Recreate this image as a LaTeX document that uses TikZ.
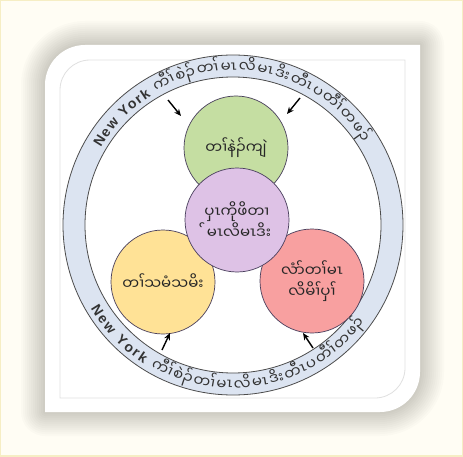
\documentclass[tikz,border=0pt]{standalone}
\usepackage{fontspec}
\setmainfont{Liberation Sans}
\newfontfamily\myf[Script=Myanmar]{Noto Sans Myanmar UI}
\newfontfamily\nyfam{Liberation Sans Bold}
\newcommand\mya{\myf\fontsize{15}{17}\selectfont}
\newcommand\nyf{\nyfam\fontsize{14}{16}\selectfont}
\usetikzlibrary{arrows.meta}
\definecolor{ringblue}{RGB}{220,228,241}
\definecolor{cgreen}{RGB}{197,222,162}
\definecolor{cpurple}{RGB}{222,194,230}
\definecolor{cyellow}{RGB}{255,226,150}
\definecolor{cred}{RGB}{248,160,160}
\definecolor{cream}{RGB}{255,253,244}
\definecolor{edgeyel}{RGB}{246,238,196}
\definecolor{circline}{RGB}{70,60,90}
\newdimen\arcacc
\newdimen\arcw
\newcount\arcn
\newbox\arcbox
% #1 macro, #2 name, #3 centre angle, #4 baseline radius, #5 direction sign, #6 rotation offset, #7 target span (deg), #8 list
\newcommand\arcprep[8]{%
  \global\arcacc=0pt \global\arcn=0
  \foreach \s in {#8}{\setbox\arcbox=\hbox{\s}\global\advance\arcacc by \wd\arcbox \global\advance\arcn by 1}%
  \pgfmathsetmacro\arcextra{((#7)*pi/180*(#4)-\arcacc)/\arcn}%
  \pgfmathsetmacro\totang{#7}%
  \global\arcacc=0pt
  \gdef#1{}%
  \foreach \s [count=\i] in {#8}{%
    \setbox\arcbox=\hbox{\s}\global\arcw=\wd\arcbox
    \global\advance\arcw by \arcextra pt
    \pgfmathsetmacro\ang{#3-(#5)*\totang/2+(#5)*(\arcacc+0.5*\arcw)/(#4)*180/pi}%
    \pgfmathsetmacro\rot{\ang+(#6)}%
    \pgfmathsetmacro\px{233+(#4)*cos(\ang)}%
    \pgfmathsetmacro\py{231+(#4)*sin(\ang)}%
    \xdef#1{\unexpanded\expandafter{#1}\noexpand\node[arctext, rotate=\rot] (#2\i) at (\px,\py) {\unexpanded\expandafter{\s}};}%
    \global\advance\arcacc by \arcw}%
}
\tikzset{
  circ/.style={circle, draw=circline, line width=0.7pt, minimum size=104pt, inner sep=0pt, align=center, font=\myf\fontsize{15}{21}\selectfont, text=black!85},
  arr/.style={-{Stealth[length=7pt,width=6pt]}, line width=1.4pt, black},
  arctext/.style={inner sep=0pt, anchor=base, text=black!80}
}
\begin{document}
\arcprep\toparc{top}{91}{153}{-1}{-90}{118}{{\nyf N},{\nyf e},{\nyf w},{\nyf\ },{\nyf Y},{\nyf o},{\nyf r},{\nyf k},{\nyf\ },{\mya ကီၢ်},{\mya စဲၣ်},{\mya တၢ်},{\mya မၤ},{\mya လိ},{\mya မၤ},{\mya ဒိး},{\mya တီၤ},{\mya ပ},{\mya တီၢ်},{\mya တ},{\mya ဖၣ်}}%
\arcprep\botarc{bot}{267}{165}{1}{90}{114}{{\nyf N},{\nyf e},{\nyf w},{\nyf\ },{\nyf Y},{\nyf o},{\nyf r},{\nyf k},{\nyf\ },{\mya ကီၢ်},{\mya စဲၣ်},{\mya တၢ်},{\mya မၤ},{\mya လိ},{\mya မၤ},{\mya ဒိး},{\mya တီၤ},{\mya ပ},{\mya တီၢ်},{\mya တ},{\mya ဖၣ်}}%
\begin{tikzpicture}[x=1pt,y=1pt]
\useasboundingbox (0,0) rectangle (463,456);
\fill[cream] (0,0) rectangle (463,456);
\draw[edgeyel, line width=2pt] (0,0) rectangle (463,456);
% card shadow
\foreach \k in {1,...,12}{
  \draw[black, opacity=0.014, line width=\k*4pt, line join=round]
    (45,44) -- (45,371) arc[start angle=180,end angle=90,radius=40] -- (420,411) -- (420,84) arc[start angle=0,end angle=-90,radius=40] -- cycle;
}
% card
\fill[white] (45,44) -- (45,371) arc[start angle=180,end angle=90,radius=40] -- (420,411) -- (420,84) arc[start angle=0,end angle=-90,radius=40] -- cycle;
\draw[black!12, line width=0.8pt] (60,58) -- (60,366) arc[start angle=180,end angle=90,radius=30] -- (405,396) -- (405,88) arc[start angle=0,end angle=-90,radius=30] -- cycle;
% ring
\coordinate (c) at (233,231);
\draw[fill=ringblue, even odd rule, draw=black!70, line width=0.8pt] (c) circle[radius=170] (c) circle[radius=148];
% circles
\node[circ, fill=cgreen] (green) at (236,308) {တၢ်နဲၣ်ကျဲ};
\node[circ, fill=cyellow] (yellow) at (163,174) {တၢ်သမံသမိး};
\node[circ, fill=cred] (red) at (312,175) {လံာ်တၢ်မၤ\\လိမိၢ်ပှၢ်};
\node[circ, fill=cpurple] (purple) at (237,236) {ပှၤကိုဖိတၢ\\^^^^00a0်မၤလိမၤဒိး};
% arrows
\coordinate (a1s) at (168,356); \coordinate (a1e) at (181,340);
\coordinate (a2s) at (300,358); \coordinate (a2e) at (287,342);
\coordinate (a3s) at (162,106); \coordinate (a3e) at (170,123);
\coordinate (a4s) at (313,108); \coordinate (a4e) at (303,123);
\draw[arr] (a1s) -- (a1e);
\draw[arr] (a2s) -- (a2e);
\draw[arr] (a3s) -- (a3e);
\draw[arr] (a4s) -- (a4e);
% ring text
\toparc
\botarc
\end{tikzpicture}
\end{document}
